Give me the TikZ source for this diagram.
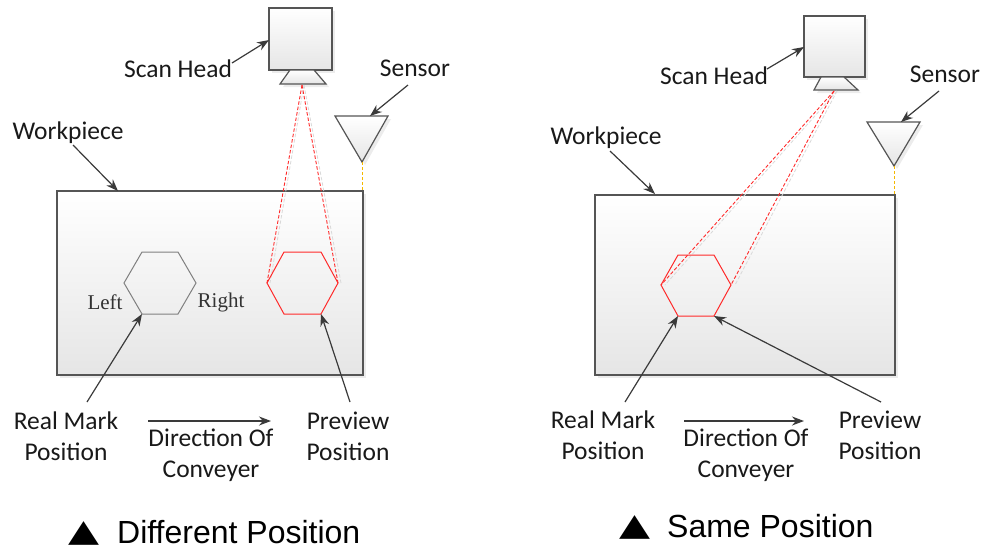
\documentclass[tikz,border=0pt]{standalone}
\usepackage{fontspec}
\setmainfont{Carlito}
\newfontfamily\serifT{Liberation Serif}
\newfontfamily\sansA{Liberation Sans}
\newfontfamily\dejavu{DejaVu Sans}
\usetikzlibrary{arrows.meta,shadows}
\definecolor{lineg}{HTML}{3A3A3A}
\definecolor{edgeg}{HTML}{555555}
\definecolor{redl}{HTML}{FF2A2A}
\definecolor{yell}{HTML}{F5B800}
\tikzset{
  lbl/.style={font=\fontsize{25.5}{31}\selectfont, align=center, inner sep=0pt, text=black!90},
  serlbl/.style={font=\serifT\fontsize{21}{25}\selectfont, inner sep=0pt, text=black!80},
  pointer/.style={draw=lineg, line width=1.2pt, -{Stealth[length=12pt,width=9pt]}},
  solidbox/.style={draw=edgeg, line width=1.2pt, top color=white, bottom color=black!10,
     drop shadow={shadow xshift=3pt, shadow yshift=-3pt, opacity=0.15}},
  headbox/.style={solidbox, rectangle, inner sep=0pt},
  beam/.style={draw=redl, line width=0.9pt, dash pattern=on 3.5pt off 2pt},
  beamshadow/.style={draw=black!15, line width=0.8pt, dash pattern=on 3.5pt off 2pt},
  markhex/.style={draw=gray, line width=1pt},
  prevhex/.style={draw=redl, line width=1pt},
  sensline/.style={draw=yell, line width=1pt, dash pattern=on 3pt off 2pt},
  caption/.style={font=\sansA\fontsize{32}{38}\selectfont, inner sep=0pt},
  tri/.style={font=\dejavu\fontsize{31}{36}\selectfont, inner sep=0pt},
}
\begin{document}
\begin{tikzpicture}[x=1pt,y=-1pt]
\useasboundingbox (0,0) rectangle (986,550);

% ================= LEFT PANEL =================
\node[headbox, minimum width=306pt, minimum height=184pt] (wp1) at (210,283) {};
\node[headbox, minimum width=63pt, minimum height=62pt] (sh1) at (300.5,39) {};
\path[solidbox] (290,70) -- (314,70) -- (326,84) -- (280,84) -- cycle;
\coordinate (lens1) at (302,85);
% sensor
\path[solidbox] (335,116) -- (388,116) -- (362,162) -- cycle;
\coordinate (sapex1) at (362,162);
\coordinate (stop1) at (370,116);
\coordinate (sbase1) at (362,191);
\draw[sensline] (sapex1) -- (sbase1);
% hexagons
\coordinate (h1a) at (142,252); \coordinate (h1b) at (178,252);
\coordinate (h1c) at (196,283); \coordinate (h1d) at (178,314);
\coordinate (h1e) at (142,314); \coordinate (h1f) at (124,283);
\draw[markhex] (h1a) -- (h1b) -- (h1c) -- (h1d) -- (h1e) -- (h1f) -- cycle;
\coordinate (p1a) at (284,252); \coordinate (p1b) at (321,252);
\coordinate (p1c) at (338,283); \coordinate (p1d) at (321,314);
\coordinate (p1e) at (284,314); \coordinate (p1f) at (267,283);
\draw[beamshadow] ([xshift=2pt]lens1) -- ([xshift=3pt]p1f);
\draw[beamshadow] ([xshift=2pt]lens1) -- ([xshift=3pt]p1c);
\draw[prevhex] (p1a) -- (p1b) -- (p1c) -- (p1d) -- (p1e) -- (p1f) -- cycle;
\draw[beam] (lens1) -- (p1f);
\draw[beam] (lens1) -- (p1c);
% labels
\node[lbl] (t1scan) at (178,69) {Scan Head};
\node[lbl] (t1sens) at (415,68) {Sensor};
\node[lbl] (t1work) at (68,133) {Workpiece};
\node[serlbl] (t1left) at (105,302) {Left};
\node[serlbl] (t1right) at (221,302) {Right};
\node[lbl] (t1real) at (66,436) {Real Mark\\Position};
\node[lbl] (t1dir) at (211,455) {Direction Of\\Conveyer};
\node[lbl] (t1prev) at (348,436) {Preview\\Position};
\coordinate (s1a) at (232,63); \coordinate (s1b) at (269,40);
\draw[pointer] (s1a) -- (s1b);
\coordinate (n1a) at (408,85);
\draw[pointer] (n1a) -- (stop1);
\coordinate (w1a) at (73,145); \coordinate (w1b) at (118,191);
\draw[pointer] (w1a) -- (w1b);
\coordinate (r1a) at (87,402);
\draw[pointer] (r1a) -- (h1e);
\coordinate (v1a) at (350,402);
\draw[pointer] (v1a) -- (p1d);
\coordinate (d1a) at (148,421); \coordinate (d1b) at (271,421);
\draw[pointer] (d1a) -- (d1b);
\node[tri] (c1tri) at (84,533) {\scalebox{1.3}[1]{▲}};
\node[caption, anchor=west] (c1txt) at (117,532) {Different Position};

% ================= RIGHT PANEL =================
\node[headbox, minimum width=300pt, minimum height=180pt] (wp2) at (745,285) {};
\node[headbox, minimum width=61pt, minimum height=61pt] (sh2) at (834.5,46.5) {};
\path[solidbox] (821,77) -- (844,77) -- (858,90) -- (814,90) -- cycle;
\coordinate (lens2) at (834,91);
\path[solidbox] (867,122) -- (920,122) -- (894,166) -- cycle;
\coordinate (sapex2) at (894,166);
\coordinate (stop2) at (901,122);
\coordinate (sbase2) at (894,195);
\draw[sensline] (sapex2) -- (sbase2);
\coordinate (p2a) at (678,255); \coordinate (p2b) at (714,255);
\coordinate (p2c) at (731,285); \coordinate (p2d) at (714,316);
\coordinate (p2e) at (678,316); \coordinate (p2f) at (661,285);
\draw[beamshadow] ([xshift=3pt]lens2) -- ([xshift=4pt]p2f);
\draw[beamshadow] ([xshift=3pt]lens2) -- ([xshift=4pt]p2c);
\draw[prevhex] (p2a) -- (p2b) -- (p2c) -- (p2d) -- (p2e) -- (p2f) -- cycle;
\draw[beam] (lens2) -- (p2f);
\draw[beam] (lens2) -- (p2c);
\node[lbl] (t2scan) at (714,76) {Scan Head};
\node[lbl] (t2sens) at (945,74) {Sensor};
\node[lbl] (t2work) at (606,138) {Workpiece};
\node[lbl] (t2real) at (603,435) {Real Mark\\Position};
\node[lbl] (t2dir) at (746,455) {Direction Of\\Conveyer};
\node[lbl] (t2prev) at (880,435) {Preview\\Position};
\coordinate (s2a) at (767,69); \coordinate (s2b) at (804,47);
\draw[pointer] (s2a) -- (s2b);
\coordinate (n2a) at (939,91);
\draw[pointer] (n2a) -- (stop2);
\coordinate (w2a) at (610,151); \coordinate (w2b) at (655,194);
\draw[pointer] (w2a) -- (w2b);
\coordinate (r2a) at (625,402);
\draw[pointer] (r2a) -- (p2e);
\coordinate (v2a) at (881,402);
\draw[pointer] (v2a) -- (p2d);
\coordinate (d2a) at (684,421); \coordinate (d2b) at (804,421);
\draw[pointer] (d2a) -- (d2b);
\node[tri] (c2tri) at (634.5,527) {\scalebox{1.3}[1]{▲}};
\node[caption, anchor=west] (c2txt) at (667,526) {Same Position};
\end{tikzpicture}
\end{document}
